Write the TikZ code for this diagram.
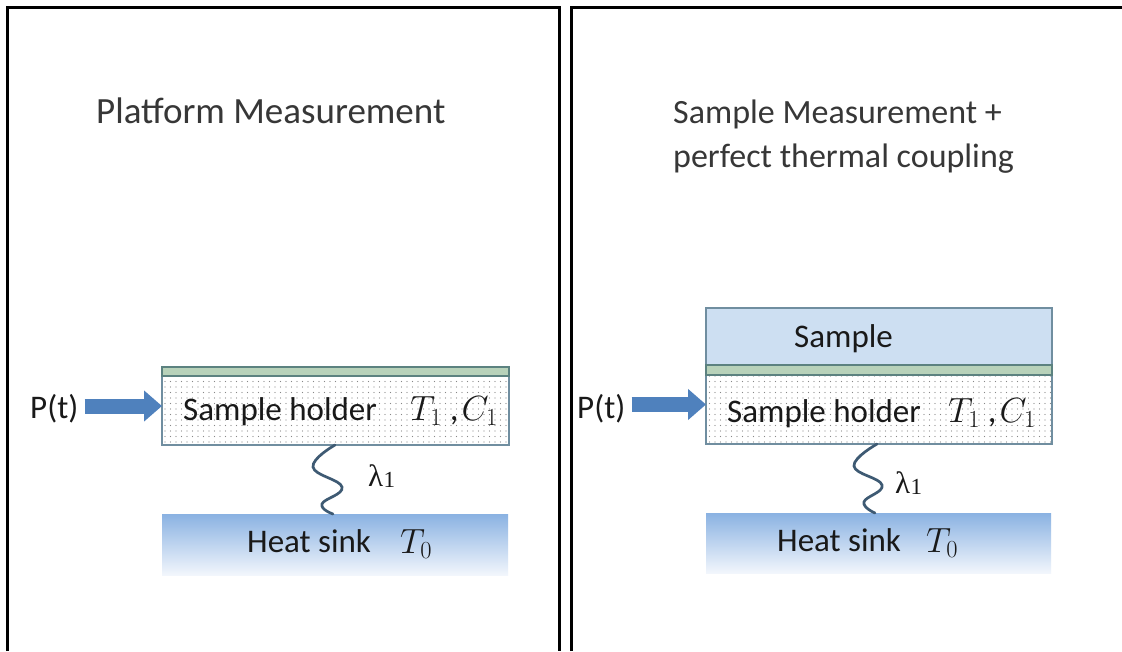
\RequirePackage{fix-cm}
\documentclass[tikz,border=0pt]{standalone}
\usepackage{fontspec}
\setmainfont{Carlito}
\newfontfamily\grfont{Liberation Serif}
\usetikzlibrary{arrows.meta,patterns.meta}
\definecolor{textgray}{RGB}{55,55,55}
\definecolor{boxedge}{RGB}{112,142,160}
\definecolor{dotgray}{RGB}{135,135,135}
\definecolor{stripgreen}{RGB}{184,210,186}
\definecolor{stripedge}{RGB}{92,130,128}
\definecolor{sinktop}{RGB}{138,178,226}
\definecolor{sinkbot}{RGB}{242,246,252}
\definecolor{samplefill}{RGB}{205,223,242}
\definecolor{arrowblue}{RGB}{79,129,189}
\definecolor{wavecol}{RGB}{62,90,115}
\tikzset{
 panel/.style={line width=3pt, draw=black},
 title/.style={font=\fontsize{37}{44}\selectfont, anchor=base west, inner sep=0pt, text=textgray},
 lbl/.style={font=\fontsize{33}{40}\selectfont, anchor=base west, inner sep=0pt, text=black!90},
 mth/.style={font=\fontsize{35}{42}\selectfont, anchor=base west, inner sep=0pt, text=black!90},
 lam/.style={font=\grfont\fontsize{31}{33}\selectfont, anchor=base west, inner sep=0pt, text=black!90},
 holder/.style={draw=boxedge, line width=1.5pt, pattern={Dots[distance=5.5pt,radius=0.7pt]}, pattern color=dotgray, inner sep=0pt, outer sep=0pt, anchor=north west},
 strip/.style={draw=stripedge, fill=stripgreen, line width=1.5pt, inner sep=0pt, outer sep=0pt, anchor=north west},
 sink/.style={top color=sinktop, bottom color=sinkbot, inner sep=0pt, outer sep=0pt, anchor=north west},
 samplebox/.style={draw=boxedge, fill=samplefill, line width=1.5pt, inner sep=0pt, outer sep=0pt, anchor=north west},
 powarrow/.style={line width=15pt, draw=arrowblue, -{Triangle[length=18pt,width=30pt]}},
 wave/.style={draw=wavecol, line width=2.7pt, line cap=round},
}
\newcommand{\lamone}{λ\kern0.5pt\raisebox{-1pt}{\fontsize{23}{24}\selectfont 1}}
\begin{document}
\begin{tikzpicture}[x=1pt,y=-1pt]
\useasboundingbox[fill=white] (0,0) rectangle (1122,651);
% panels
\draw[panel] (7,651) -- (7,7) -- (559,7) -- (559,651);
\draw[panel] (571,651) -- (571,7) -- (1122,7);

% ---------- left panel ----------
\node[title] (t1) at (96,123) {Platform Measurement};
\node[holder, minimum width=347pt, minimum height=78pt] (hold1) at (162,367) {};
\node[strip, minimum width=347pt, minimum height=9pt] (strip1) at (162,367) {};
\node[sink, minimum width=346pt, minimum height=61pt] (sink1) at (162,514) {};
\node[lbl] (hl1) at (183,420) {Sample holder};
\node[mth] (tc1) at (410,420) {$T_1$ ,\kern3pt$C_1$};
\node[lbl] (hs1) at (247,552) {Heat sink};
\node[mth] (t01) at (400,553) {$T_0$};
\node[lbl] (p1) at (30,418) {P(t)};
\draw[powarrow] (p1.east |- hold1.west) ++(6,0) -- (hold1.west);
\draw[wave] plot[smooth, tension=0.75] coordinates {(335,445) (313,467) (342,487) (322,504) (333,514)};
\node[lam] (l1) at (368,486) {\lamone};

% ---------- right panel ----------
\node[lbl, font=\fontsize{34}{40}\selectfont, text=textgray] (t2a) at (673,123) {Sample Measurement +};
\node[lbl, font=\fontsize{34}{40}\selectfont, text=textgray] (t2b) at (673,167) {perfect thermal coupling};
\node[samplebox, minimum width=346pt, minimum height=57pt] (samp2) at (706,308) {};
\node[holder, minimum width=346pt, minimum height=79pt] (hold2) at (706,365) {};
\node[strip, minimum width=346pt, minimum height=10pt] (strip2) at (706,365) {};
\node[sink, minimum width=345pt, minimum height=60pt] (sink2) at (706,513) {};
\node[lbl] (s2) at (794,347) {Sample};
\node[lbl] (hl2) at (727,422) {Sample holder};
\node[mth] (tc2) at (948,422) {$T_1$ ,\kern3pt$C_1$};
\node[lbl] (hs2) at (777,551) {Heat sink};
\node[mth] (t02) at (926,552) {$T_0$};
\node[lbl] (p2) at (577,418) {P(t)};
\draw[powarrow] (p2.east |- hold2.center) ++(6,0) -- (hold2.west |- hold2.center);
\draw[wave] plot[smooth, tension=0.75] coordinates {(877,444) (854,466) (882,485) (864,502) (875,513)};
\node[lam] (l2) at (895,493) {\lamone};
\end{tikzpicture}
\end{document}
